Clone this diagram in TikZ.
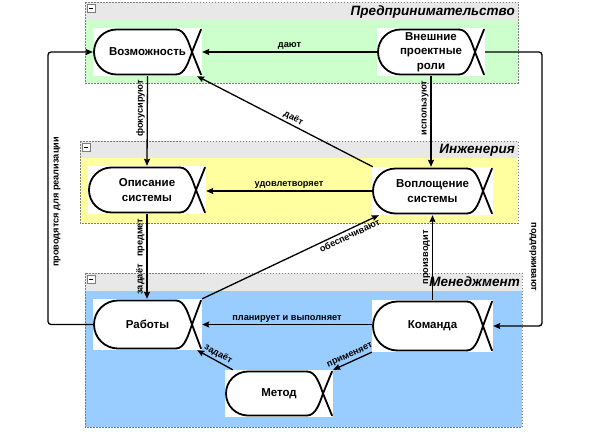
\documentclass[tikz,border=0pt]{standalone}
\usepackage{fontspec}
\setmainfont{Liberation Sans}
\usetikzlibrary{arrows.meta,calc}

\definecolor{pkggreen}{RGB}{204,255,204}
\definecolor{pkgyellow}{RGB}{255,255,160}
\definecolor{pkgblue}{RGB}{153,204,255}
\definecolor{pkghead}{RGB}{232,232,232}
\definecolor{pkgborder}{RGB}{125,125,125}

\tikzset{
  pkgframe/.style={draw=pkgborder, dash pattern=on 1.5pt off 1.5pt, line width=0.6pt},
  minusbox/.style={draw=pkgborder, fill=white, line width=0.4pt},
  alphabox/.style={fill=white, inner sep=0pt, align=center,
    font=\bfseries\fontsize{11.5}{14.5}\selectfont},
  alphaline/.style={line width=1.8pt, line cap=round, line join=round},
  conn/.style={line width=1.3pt, -{Stealth[length=7pt,width=6pt,inset=1pt]}},
  lbl/.style={font=\bfseries\fontsize{9.2}{10}\selectfont, inner sep=1.8pt},
  ptitle/.style={font=\bfseries\itshape\fontsize{13.5}{15}\selectfont, anchor=east, inner sep=0pt},
}

\newcommand\alphanode[6]{%
  \node[alphabox, minimum width={(#4-#2)*1pt}, minimum height={(#5-#3)*1pt}]
    (#1) at ({(#2+#4)/2},{(#3+#5)/2}) {#6};
  \pgfmathsetmacro\alT{#3+1.5}%
  \pgfmathsetmacro\alB{#5-1.5}%
  \pgfmathsetmacro\alR{(\alB-\alT)/2}%
  \pgfmathsetmacro\alM{(\alB+\alT)/2}%
  \pgfmathsetmacro\alS{#4-26}%
  \pgfmathsetmacro\alL{#2+1+\alR}%
  \draw[alphaline] (\alS,\alT) -- (\alL,\alT) arc[start angle=270, end angle=90, radius=\alR] -- (\alS,\alB);
  \draw[alphaline] (\alS,\alT) .. controls ({#4-17},\alT) and ({#4-13.4},{\alM-9.4}) .. ({#4-10},\alM) -- ({#4-1},\alB);
  \draw[alphaline] (\alS,\alB) .. controls ({#4-17},\alB) and ({#4-13.4},{\alM+9.4}) .. ({#4-10},\alM) -- ({#4-1},\alT);
}

\newcommand\pkgbox[6]{% x0,y0,x1,y1,yhead,color
  \fill[pkghead] (#1,#2) rectangle (#3,#5);
  \fill[#6] (#1,#5) rectangle (#3,#4);
  \draw[pkgframe] (#1,#2) rectangle (#3,#4);
  \draw[minusbox] ({#1+2},{#2+2}) rectangle ({#1+10},{#2+10});
  \draw[line width=0.6pt] ({#1+4},{#2+6}) -- ({#1+8},{#2+6});
}

\begin{document}
\begin{tikzpicture}[x=1pt, y=-1pt]
\useasboundingbox[fill=white] (0,0) rectangle (591,431);

% packages
\pkgbox{85}{2}{518}{83}{20}{pkggreen}
\pkgbox{80}{141}{518}{223}{158}{pkgyellow}
\pkgbox{85}{273}{522}{427}{291}{pkgblue}
\node[ptitle] (t1) at (515,12) {Предпринимательство};
\node[ptitle] (t2) at (515,150) {Инженерия};
\node[ptitle] (t3) at (520,282) {Менеджмент};

% alphas
\alphanode{voz}{93}{28}{202}{76}{Возможность}
\alphanode{vpr}{377}{28}{485}{76}{Внешние\\проектные\\роли}
\alphanode{opis}{88}{166}{206}{214}{Описание\\системы}
\alphanode{vopl}{372}{167}{493}{215}{Воплощение\\системы}
\alphanode{rab}{93}{299}{202}{350}{Работы}
\alphanode{kom}{372}{300}{493}{352}{Команда}
\alphanode{met}{225}{370}{333}{417}{Метод}

% connectors
\draw[conn] (vpr.west) -- node[lbl, above] {дают} (voz.east);
\draw[conn] (voz.south) -- node[lbl, pos=0.36, rotate=90, anchor=south] {фокусируют} (opis.north);
\draw[conn] (vopl.west) -- node[lbl, above] {удовлетворяет} (vopl.west -| opis.east);
\draw[conn] (vpr.south) -- node[lbl, pos=0.35, rotate=90, anchor=south] {используют} (vpr.south |- vopl.north);
\draw[conn] ([xshift=1pt]vopl.north west) -- node[lbl, sloped, above, pos=0.47] {даёт} ([xshift=-5pt]voz.south east);
\draw[conn] (opis.south) -- node[lbl, pos=0.5, rotate=90, anchor=south] {задаёт\hspace{0.8em}предмет} (opis.south |- rab.north);
\draw[conn] (rab.north east) -- node[lbl, sloped, below, pos=0.82] {обеспечивают} ([xshift=7pt]vopl.south west);
\draw[conn] (kom.north) -- node[lbl, pos=0.5, rotate=90, anchor=south] {производит} (kom.north |- vopl.south);
\draw[conn] (kom.west |- rab.east) -- node[lbl, above] {планирует и выполняет} (rab.east);
\draw[conn] (kom.south west) -- node[lbl, sloped, above] {применяет} (met.north east);
\draw[conn] ([xshift=8pt]met.north west) -- node[lbl, sloped, above] {задаёт} ([xshift=-5pt]rab.south east);

\coordinate (lft) at (48,190);
\draw[conn, rounded corners=3pt] (rab.west) -| (lft) |- (voz.west);
\node[lbl, rotate=90] (lprov) at (57,202) {проводятся для реализации};

\coordinate (rgt) at (542,190);
\draw[conn, rounded corners=3pt] (vpr.east) -| (rgt) |- (kom.east);
\node[lbl, rotate=-90] (lpodd) at (533,257) {поддерживают};
\end{tikzpicture}
\end{document}
